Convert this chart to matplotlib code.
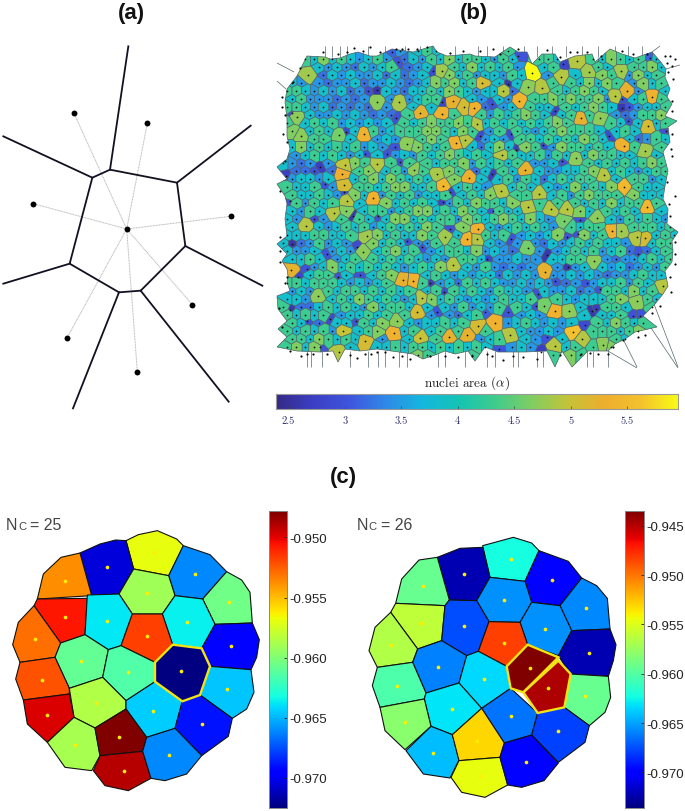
import numpy as np
import matplotlib
matplotlib.use('Agg')
import matplotlib.pyplot as plt
from matplotlib.collections import PolyCollection, LineCollection
from matplotlib.colors import LinearSegmentedColormap, Normalize
from matplotlib.patches import Polygon
from matplotlib.path import Path

W, H = 685, 812

# ## panel (a), read at 3x zoom
a_center = (380, 690)
a_dots = [(222,343),(442,373),(100,614),(692,652),(577,917),(412,1118),(201,1017)]
a_ring = [(330,512),(531,551),(556,741),(422,875),(357,880),(209,794),(277,536)]
a_arms = [(385,142),(752,380),(787,860),(686,1208),(219,1228),(10,854),(10,412)]

# ## panel (b): colour of the nuclei (approximate)
# digit = area level, the layout of these ordinary cells is a staggered lattice
b_levels = {'1':2.7,'2':3.0,'3':3.2,'4':3.45,'5':3.85,'6':4.3,'7':4.65,'8':4.8,'9':5.0}
b_rows = [
"77667676576564656565766576576767665676576757",
"76657565456453546575665465676656766576567565",
"75645454354564345656575656456567567656566756",
"76543545445353456675645546576457566765475665",
"65454344534454345767564654565367657576447566",
"66545453423543556576545543465565676575347656",
"75644434344345456665654454556676766743356766",
"66545343435453565767553545665556567653245566",
"57454454543435646576576465676565686754346675",
"66565645454536567667665656565676575665457567",
"67656564556456667765765465654567666575657656",
"76566645554546567676654547665656576566534656",
"65756565645435676567653575476547665656466565",
"64565654565345465676565656556465757665567566",
"54343456765465676566746565654455656565656765",
"43324365676564465676535665565445567656545665",
"54554566567576565767665756465356566745466456",
"65565454665677556565654665656545756576565565",
"56556545756465645567565767665656467666575556",
"46465656566756565546576657666565656575665656",
"55465647556645677565765665567656575665656455",
"54324565656577565664765676575456576554656545",
"65455456564565657645766545656545656647566656",
"55566556567565576565676565454576575645576565",
"53346454567565544676565544454354565655456566",
"54456454555675654566574543454345656456343565",
"65565645676565654545665344544455665343445656",
"66745756565654565766546434344345454545345465",
"65456645755676545654545535454344545434456556",
"66566654545656765453656544545443434556465656",
"64545656656565655656565465546544534466575656",
"55434565765654567565454565566565455567656565",
"64335656547566565454645465654565454566567656",
"65656545565656654343565565454545456556545566",
"66543655465767545565656454565454565657656565",
"65656476567655665656656464544545656665675656",
"76657656565466567657564565454545565766565656",
"67575565675565665656565654546545656776566655",
"76766576676766676776767676766766767676676767",
]

# nuclei that stand out, x, y, area
b_large = [(308,76,4.8),(377,103,4.7),(399,103,4.85),(364,135,5.35),(301,137,4.7),(339,136,4.6),
           (377,165,4.9),(345,166,4.95),(342,175,5.3),(344,186,5.1),(373,199,5.35),(347,202,4.9),
           (407,145,4.7),(414,171,4.7),(437,175,4.85),(443,187,5.45),(469,179,5.3),(456,144,5.35),
           (465,141,4.9),(420,114,5.25),(442,115,5.35),(453,102,5.25),(464,108,5.1),(474,109,5.35),
           (442,72,4.8),(297,118,4.7),(532,74,5.95),(519,102,5.4),(482,84,5.1),(528,88,4.7),
           (542,89,4.9),(503,92,4.9),(577,62,4.9),(561,78,4.9),(589,73,4.8),(621,72,4.8),
           (627,92,5.25),(615,97,4.9),(652,98,5.35),(648,127,5.1),(581,119,5.25),(600,119,4.7),
           (624,147,5.35),(525,171,5.25),(501,192,4.9),(539,195,4.9),(624,188,5.45),(647,208,5.45),
           (604,176,4.9),(645,152,4.8),(576,159,4.7),(502,156,4.9),(477,125,4.9),(334,214,4.9),
           (306,227,4.9),(367,237,4.8),(445,238,4.8),(467,240,5.35),(477,240,4.9),(291,271,5.25),
           (453,266,4.9),(403,281,5.25),(413,282,5.35),(422,299,4.9),(417,313,5.1),(343,332,5.0),
           (394,334,5.35),(420,339,5.0),(449,338,5.25),(467,336,5.25),(365,342,5.1),(339,353,4.9),
           (397,322,4.7),(318,297,4.7),(363,253,4.7),(528,208,4.9),(551,210,4.9),(567,210,4.9),
           (597,219,4.7),(564,222,4.6),(612,232,5.35),(621,232,4.8),(637,238,4.9),(645,239,5.1),
           (478,230,5.35),(528,249,4.6),(594,262,4.7),(545,273,5.25),(663,287,4.9),(637,302,4.7),
           (555,312,5.35),(569,312,4.7),(544,307,4.6),(495,324,5.35),(478,327,5.1),(510,336,4.9),
           (573,333,5.6),(582,340,4.9),(555,347,4.9),(603,346,4.7)]
b_small = [(377,91,2.6),(433,72,2.9),(398,63,3.0),(392,53,3.1),(346,133,2.9),(396,119,3.0),
           (320,168,2.7),(286,177,2.7),(292,114,3.0),(442,103,2.8),(443,203,2.8),(450,193,2.9),
           (290,202,3.0),(395,148,3.0),(387,155,3.0),(400,163,3.0),(365,155,3.0),(325,185,3.0),
           (344,193,3.0),(508,85,2.6),(563,65,2.8),(555,112,2.8),(622,109,2.6),(622,100,3.0),
           (628,122,3.0),(480,137,2.9),(511,135,2.9),(516,151,2.7),(543,146,2.9),(609,137,2.9),
           (562,162,3.0),(492,175,2.7),(518,57,3.0),(666,132,3.0),(650,59,3.1),(492,105,3.0),
           (353,217,2.6),(378,217,3.0),(292,245,2.6),(357,248,2.9),(327,255,3.0),(307,270,3.0),
           (298,278,2.8),(338,278,3.0),(360,276,3.0),(430,284,2.7),(444,293,2.9),(290,311,2.6),
           (307,322,3.0),(330,320,2.9),(437,313,3.0),(320,348,3.0),(450,230,3.0),(407,242,3.0),
           (356,322,3.0),(422,248,3.0),(547,256,2.6),(568,268,2.6),(555,282,3.0),(487,260,2.8),
           (511,240,3.0),(567,238,3.0),(578,235,3.0),(580,221,3.0),(592,312,2.6),(596,310,2.7),
           (600,290,3.0),(541,353,2.7),(585,326,2.9),(638,255,3.0),(493,212,3.0),(538,295,3.0),
           (536,307,3.0),(587,284,3.0),(633,317,3.0),(640,317,3.0),(508,313,3.0),(547,338,3.0),
           (499,350,3.0),(485,313,3.1)]

b_outline = [(297,77),(307,57),(325,58),(330,60),(340,59),(350,55),(358,53),(370,57),(377,57),(392,50),
             (413,53),(433,47),(437,53),(447,57),(470,55),(475,57),(495,58),(510,48),(518,53),(527,53),
             (532,65),(542,55),(555,55),(560,63),(575,57),(592,55),(595,63),(610,50),(622,55),(635,59),
             (652,53),(660,62),(666,70),(665,78),(670,90),(667,98),(672,105),(665,117),(677,122),(668,128),
             (670,143),(663,153),(668,172),(665,187),(663,200),(668,210),(667,225),(678,233),(672,242),
             (673,252),(672,263),(665,272),(668,287),(663,295),(655,305),(643,317),(657,328),(635,333),
             (625,340),(615,345),(608,352),(588,352),(572,368),(562,352),(555,368),(547,352),(525,353),(498,353),
             (485,348),(475,362),(468,352),(455,355),(445,352),(435,356),(423,360),(413,355),(377,350),(360,352),
             (345,350),(338,363),(333,352),(320,353),(297,352),(277,348),(287,338),(278,330),(287,322),(278,310),
             (277,297),(290,292),(287,283),(288,277),(287,270),(282,262),(287,255),(277,245),(287,237),(285,220),
             (287,205),(285,197),(277,185),(287,180),(277,168),(287,160),(290,150),(287,137),(287,120),(285,103),
             (287,90),(297,77)]
b_outer_dots = [(323,53),(338,55),(347,53),(354,49),(363,52),(370,48),(380,53),(396,50),(402,50),(408,50),
                (417,50),(427,48),(450,54),(463,52),(480,52),(493,50),(500,55),(518,50),(547,51),(560,58),
                (570,53),(577,53),(587,53),(601,57),(622,52),(633,55),(647,55),(665,57),(670,57),(675,60),
                (667,64),(672,67),(668,73),(673,80),(672,102),(672,112),(672,135),(671,150),(672,157),
                (667,183),(675,197),(669,205),(670,217),(675,243),(675,255),(675,265),(670,278),(671,293),
                (660,307),(652,314),(645,336),(638,338),(623,341),(613,348),(608,355),(598,355),(590,354),
                (581,355),(560,356),(537,360),(523,358),(513,357),(503,361),(492,357),(487,355),(410,360),
                (402,357),(393,358),(385,353),(377,353),(371,355),(365,355),(357,359),(350,356),(327,355),
                (313,355),(307,355),(301,357),(290,352),(430,357),(445,357),(458,358),(472,357),(282,328),
                (279,309),(285,284),(287,278),(280,263),(280,238),(280,252),(300,69),(293,83),(282,98),
                (282,108),(285,116),(283,135),(287,143),(285,162),(280,192)]
b_long_lines = [((277,64),(294,73)),((277,82),(286,90)),((654,305),(678,368)),((643,317),(678,369)),
                ((608,352),(637,369)),((622,338),(637,368)),((652,53),(660,47)),((666,70),(680,66))]
b_bottom_x = [307,311,322,350,368,378,385,399,407,438,445,465,487,495,513,518,537,543,587,593,608]
b_top_x = [325,332,340,347,368,385,405,420,455,478,487,503,524,537,552,566,582,598,615,628,642]

bar_b_ticks = [2.5, 3, 3.5, 4, 4.5, 5, 5.5]
bar_b_labels = ['2.5', '3', '3.5', '4', '4.5', '5', '5.5']

# ## panel (c), cell corners read at 3x zoom
c25_cells = [
 [(378,185),(415,167),(472,155),(530,180),(550,200),(506,290),(401,270)],
 [(240,222),(300,195),(347,183),(378,185),(401,270),(357,345),(275,350)],
 [(112,360),(130,285),(183,235),(240,222),(275,350)],
 [(550,200),(630,227),(680,278),(608,360),(525,350),(506,290)],
 [(680,278),(725,303),(750,340),(757,432),(645,436),(608,360)],
 [(401,270),(506,290),(525,350),(487,405),(397,405),(357,345)],
 [(102,380),(112,360),(262,358),(255,467),(182,492)],
 [(262,348),(357,345),(397,405),(363,500),(325,512),(255,467)],
 [(525,350),(608,360),(645,436),(605,508),(518,497),(487,405)],
 [(397,405),(487,405),(518,497),(465,550),(363,500)],
 [(645,436),(757,432),(778,482),(770,535),(753,572),(630,562),(605,508)],
 [(102,380),(182,492),(165,535),(60,550),(38,497),(55,430)],
 [(182,492),(255,467),(325,512),(308,595),(208,628),(165,535)],
 [(325,512),(363,500),(465,550),(465,608),(378,665),(308,595)],
 [(518,497),(605,508),(630,562),(600,648),(547,667),(465,608),(465,550)],
 [(60,550),(165,535),(208,628),(208,645),(70,663),(47,600)],
 [(208,628),(308,595),(378,665),(378,690),(285,747),(222,715)],
 [(630,562),(753,572),(762,640),(740,690),(697,718),(600,648)],
 [(70,663),(208,645),(222,715),(142,790),(82,735)],
 [(378,665),(465,608),(547,667),(525,748),(440,775),(378,690)],
 [(547,667),(600,648),(697,718),(685,772),(605,830),(525,748)],
 [(222,715),(285,747),(300,830),(275,875),(195,865),(142,790)],
 [(285,747),(378,690),(440,775),(428,817),(300,830)],
 [(300,830),(428,817),(453,898),(385,935),(315,920),(280,875)],
 [(440,775),(525,748),(605,830),(560,885),(495,905),(453,898),(428,817)],
]
c25_values = [-0.9569,-0.9705,-0.9537,-0.9661,-0.9605,-0.9590,-0.9506,-0.9638,-0.9636,-0.9517,-0.9694,-0.9530,
              -0.9609,-0.9615,-0.9725,-0.9522,-0.9586,-0.9646,-0.9498,-0.9644,-0.969,-0.9588,-0.9478,-0.9490,-0.9661]
c25_dots = [(462,218),(320,265),(195,305),(586,284),(688,369),(441,341),(196,413),(322,425),(562,428),(442,471),
            (693,501),(105,481),(244,547),(383,579),(543,577),(125,603),(682,629),(288,671),(141,707),(460,695),
            (605,734),(226,797),(358,773),(371,875),(508,829)]
c25_ticks = [-0.950, -0.955, -0.960, -0.965, -0.970]
c25_range = (-0.9725, -0.9478)

c26_cells = [
 [(413,200),(505,175),(560,192),(582,215),(540,307),(435,295)],
 [(277,235),(345,208),(413,205),(435,295),(395,365),(313,363)],
 [(152,373),(170,300),(222,243),(277,235),(313,363),(300,380)],
 [(582,215),(670,247),(710,297),(645,380),(560,370),(540,307)],
 [(710,297),(755,320),(787,358),(795,450),(680,455),(645,380)],
 [(435,295),(540,307),(560,370),(525,430),(432,428),(395,365)],
 [(152,373),(300,380),(290,485),(218,510),(137,400)],
 [(313,363),(395,365),(432,428),(400,517),(365,530),(290,485),(300,380)],
 [(560,370),(645,380),(680,455),(640,530),(548,497),(525,430)],
 [(432,428),(525,430),(548,497),(485,562),(400,517)],
 [(680,455),(795,450),(813,497),(805,545),(790,592),(675,585),(640,530)],
 [(137,400),(218,510),(203,550),(97,565),(72,515),(90,445)],
 [(218,510),(290,485),(365,530),(342,612),(243,642),(203,550)],
 [(365,530),(400,517),(485,562),(497,628),(410,688),(342,612)],
 [(548,497),(640,535),(535,640),(497,628),(485,562)],
 [(640,545),(677,585),(658,685),(578,702),(535,640)],
 [(677,585),(790,592),(797,655),(780,700),(733,740),(658,685)],
 [(97,565),(203,550),(243,642),(238,660),(105,685),(82,620)],
 [(243,642),(342,612),(410,688),(322,767),(258,742),(238,660)],
 [(410,688),(497,628),(578,702),(560,768),(478,792)],
 [(578,702),(658,685),(733,740),(720,790),(640,850),(560,768)],
 [(105,685),(238,660),(258,742),(180,812),(120,755)],
 [(258,742),(322,767),(342,843),(315,897),(235,885),(183,815)],
 [(322,767),(410,688),(478,792),(465,835),(342,845)],
 [(342,845),(465,835),(488,918),(420,955),(350,940),(318,895)],
 [(478,792),(560,768),(640,852),(597,905),(530,925),(488,918),(465,835)],
]
c26_values = [-0.9622,-0.9722,-0.9593,-0.9698,-0.9658,-0.9655,-0.9561,-0.9676,-0.9655,-0.9483,-0.9722,-0.9566,
              -0.966,-0.9634,-0.9435,-0.9447,-0.9593,-0.9602,-0.9631,-0.9664,-0.9679,-0.958,-0.9643,-0.9531,
              -0.9546,-0.9698]
c26_dots = [(497,240),(357,284),(233,322),(620,302),(723,388),(477,362),(227,432),(357,441),(599,449),(477,492),
            (139,497),(731,521),(280,564),(418,600),(555,568),(157,621),(610,628),(720,651),(320,689),(497,711),
            (179,729),(640,756),(264,821),(395,787),(543,849),(405,891)]
c26_ticks = [-0.945, -0.950, -0.955, -0.960, -0.965, -0.970]
c26_range = (-0.9736, -0.9435)

# colours of the (b) colourbar
area_colors = ['#352a87','#3b3fc4','#3f55de','#2f8ae8','#14b8de','#14c4b4','#40cc8c','#80ce62','#c4c438',
               '#eeae2e','#f4c22e','#f9fb15']
area_cmap = LinearSegmentedColormap.from_list('area', area_colors)
area_norm = Normalize(2.39, 5.95)

sans = ['Liberation Sans', 'DejaVu Sans']
plt.rcParams['mathtext.fontset'] = 'cm'

fig = plt.figure(figsize=(W/100, H/100), dpi=100)
ax = fig.add_axes([0, 0, 1, 1])
ax.set_xlim(0, W)
ax.set_ylim(H, 0)
ax.axis('off')


def pix_axes(x0, y0, x1, y1):
    return fig.add_axes([x0/W, 1-y1/H, (x1-x0)/W, (y1-y0)/H])


# ## titles
for lab, x, y in [('(a)', 131, 14), ('(b)', 474, 14), ('(c)', 343, 478)]:
    ax.text(x, y, lab, family=sans, weight='bold', fontsize=16, ha='center', va='center', color='#111111')

# ## panel (a)
cx, cy = a_center
for x, y in a_dots:
    ax.plot([cx/3, x/3], [cy/3, y/3], color='#b5b5b5', lw=0.7, ls=(0, (1, 0.6)), zorder=1)
ring = np.array(a_ring)/3
ax.add_patch(Polygon(ring, closed=True, fill=False, ec='#111122', lw=1.3, zorder=2, joinstyle='miter'))
for p, q in zip(a_ring, a_arms):
    ax.plot([p[0]/3, q[0]/3], [p[1]/3, q[1]/3], color='#111122', lw=1.3, zorder=2)
dots = np.array(a_dots + [a_center])/3
ax.scatter(dots[:, 0], dots[:, 1], s=18, color='black', zorder=3, lw=0)

# ## panel (b)
outline = Path(np.array(b_outline))
big = b_large + b_small
big_xy = np.array([(p[0], p[1]) for p in big], dtype=float)
big_a = np.array([p[2] for p in big])

seed_xy = []
seed_a = []
for j, row in enumerate(b_rows):
    for i, ch in enumerate(row):
        x = 283 + 9*i + (4.5 if j % 2 else 0)
        y = 52 + 8*j
        if not outline.contains_point((x, y)):
            continue
        d = np.hypot(big_xy[:, 0]-x, big_xy[:, 1]-y)
        keep = np.where(big_a >= 4.6, 8.5, 5.5)
        if (d < keep).any():
            continue
        seed_xy.append((x, y))
        seed_a.append(b_levels[ch])
seed_xy = np.vstack([np.array(seed_xy), big_xy])
seed_a = np.concatenate([np.array(seed_a), big_a])
weights = np.clip(26*(seed_a-4), -22, 18)


def clip_halfplane(poly, n, c):
    # keep the part of poly where n.p <= c
    out = []
    for k in range(len(poly)):
        p, q = poly[k], poly[(k+1) % len(poly)]
        dp, dq = p @ n - c, q @ n - c
        if dp <= 0:
            out.append(p)
        if dp*dq < 0:
            out.append(p + (q-p)*dp/(dp-dq))
    return np.array(out)


cells = []
cell_a = []
for i, s in enumerate(seed_xy):
    poly = s + np.array([(-32, -32), (32, -32), (32, 32), (-32, 32)], dtype=float)
    d = np.hypot(*(seed_xy-s).T)
    for j in np.argsort(d)[1:40]:
        t = seed_xy[j]
        poly = clip_halfplane(poly, 2*(t-s), t @ t - s @ s + weights[i]-weights[j])
        if len(poly) == 0:
            break
    if len(poly) > 2:
        cells.append(poly)
        cell_a.append(seed_a[i])

pc = PolyCollection(cells, array=np.array(cell_a), cmap=area_cmap, norm=area_norm,
                    edgecolors='#4c6064', linewidths=0.45, zorder=2)
ax.add_collection(pc)
pc.set_clip_path(Polygon(np.array(b_outline), transform=ax.transData))
ax.add_patch(Polygon(np.array(b_outline), closed=True, fill=False, ec='#4c6064', lw=0.5, zorder=3))
ax.scatter(seed_xy[:, 0], seed_xy[:, 1], s=1.6, color='#111111', lw=0, zorder=4)
outer = np.array(b_outer_dots)
ax.scatter(outer[:, 0], outer[:, 1], s=2.5, color='#0a0a0a', lw=0, zorder=4)
spikes = list(b_long_lines)
spikes += [((x, 352), (x, 368)) for x in b_bottom_x]
spikes += [((x, 58), (x, 47)) for x in b_top_x]
ax.add_collection(LineCollection(spikes, colors='#55666a', linewidths=0.5, zorder=1))
ax.text(467, 383, r'nuclei area ($\alpha$)', family='cmr10', fontsize=9.5, ha='center', va='center', color='#222222')

bar = pix_axes(276, 395, 678, 410)
bar.imshow(np.linspace(2.39, 5.95, 256)[None, :], aspect='auto', cmap=area_cmap, norm=area_norm,
           extent=[2.39, 5.95, 0, 1])
bar.set_yticks([])
bar.set_xticks(bar_b_ticks)
bar.set_xticklabels(bar_b_labels, family='cmr10', fontsize=7.5, color='#2a2a66')
bar.tick_params(axis='x', direction='in', length=2, width=0.5, color='#444444', pad=5)
for sp in bar.spines.values():
    sp.set_color('#999999')
    sp.set_linewidth(0.8)


# ## panel (c)
def draw_c(cell_list, values, dot_list, vrange, x0, highlight):
    norm = Normalize(*vrange)
    polys = [np.array(c, dtype=float)/3 + (x0, 480) for c in cell_list]
    ax.add_collection(PolyCollection(polys, array=np.array(values), cmap='jet', norm=norm,
                                     edgecolors='#111111', linewidths=0.8, zorder=2))
    for k in highlight:
        ax.add_patch(Polygon(polys[k], closed=True, fill=False, ec='#f2e414', lw=1.7, zorder=3))
    d = np.array(dot_list, dtype=float)/3 + (x0, 480)
    ax.scatter(d[:, 0], d[:, 1], s=7, color='#ffee00', lw=0, zorder=4)


def draw_c_bar(x0, y0, x1, y1, vrange, ticks):
    b = pix_axes(x0, y0, x1, y1)
    b.imshow(np.linspace(vrange[0], vrange[1], 256)[:, None], aspect='auto', cmap='jet', origin='lower',
             extent=[0, 1, vrange[0], vrange[1]])
    b.set_xticks([])
    b.yaxis.tick_right()
    b.set_yticks(ticks)
    b.set_yticklabels(['%.3f' % t for t in ticks], family=sans, fontsize=9.5, color='#222222')
    b.tick_params(axis='y', direction='in', length=2.5, width=0.6, color='#222222', pad=1.5)
    for sp in b.spines.values():
        sp.set_color('#888888')
        sp.set_linewidth(0.7)


draw_c(c25_cells, c25_values, c25_dots, c25_range, 0, [14])
draw_c(c26_cells, c26_values, c26_dots, c26_range, 345, [14, 15])
draw_c_bar(269, 512, 287.3, 809, c25_range, c25_ticks)
draw_c_bar(625.3, 512, 644, 809, c26_range, c26_ticks)

for x, num in [(6, '25'), (356.7, '26')]:
    ax.text(x, 526, 'N', family=sans, fontsize=11.5, va='center', color='#444444')
    ax.text(x+12, 527.5, 'C', family=sans, fontsize=8, va='center', color='#444444')
    ax.text(x+24, 526, '= ' + num, family=sans, fontsize=11.5, va='center', color='#444444')

fig.savefig('out.png', dpi=100)
